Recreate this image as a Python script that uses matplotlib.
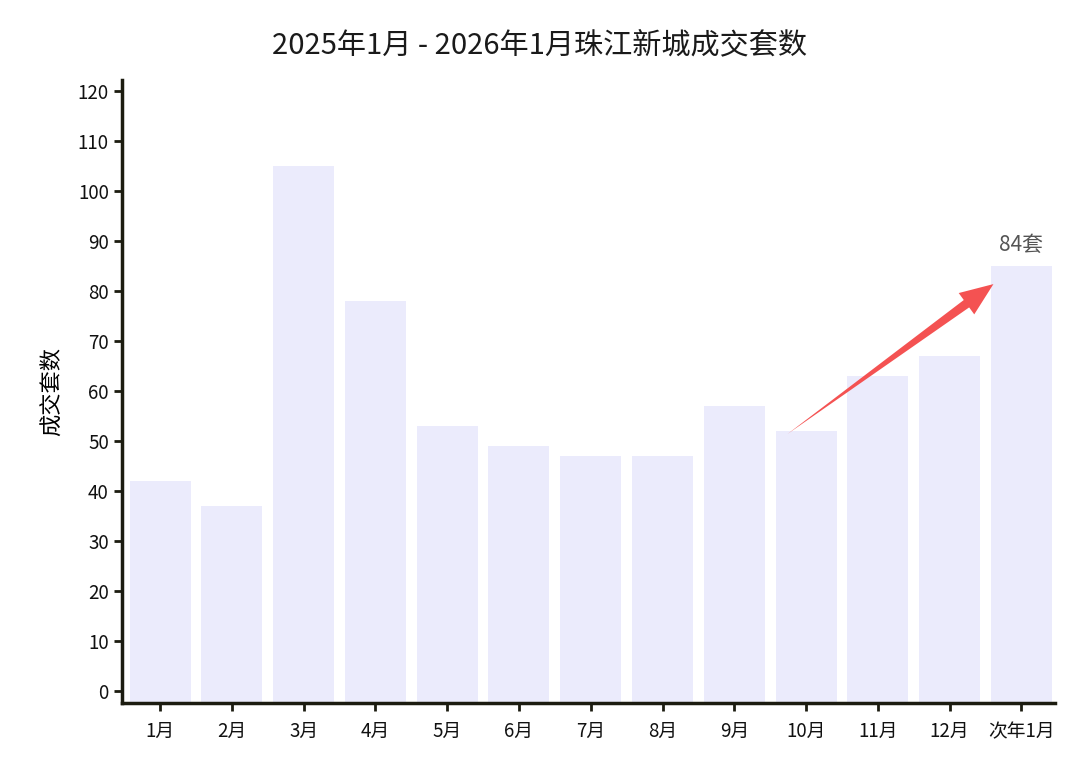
import matplotlib
matplotlib.use('Agg')
import matplotlib.pyplot as plt

plt.rcParams['font.family'] = ['Noto Sans CJK SC', 'DejaVu Sans']

months = ['1月', '2月', '3月', '4月', '5月', '6月', '7月', '8月', '9月', '10月', '11月', '12月', '次年1月']
deals = [42, 37, 105, 78, 53, 49, 47, 47, 57, 52, 63, 67, 85]
last_label = '84套'

y_min, y_max = -2.4, 122.2
axis_color = '#1c1c10'
arrow_color = '#f45252'

fig = plt.figure(figsize=(10.8, 7.78), dpi=100)
ax = fig.add_axes([0.113, 0.0964, 0.864, 0.8006])

x = list(range(len(months)))
ax.bar(x, [v - y_min for v in deals], bottom=y_min, width=0.85, color='#ebebfc', zorder=1)

ax.set_xlim(-0.53, 12.47)
ax.set_ylim(y_min, y_max)
ax.set_xticks(x)
ax.set_xticklabels(months)
ax.set_yticks(range(0, 121, 10))
ax.tick_params(axis='both', labelsize=13.5, length=6, width=2, color=axis_color, labelcolor='#111111')
ax.tick_params(axis='x', pad=7)

for side in ['top', 'right']:
    ax.spines[side].set_visible(False)
for side in ['left', 'bottom']:
    ax.spines[side].set_linewidth(2.5)
    ax.spines[side].set_color(axis_color)

ax.set_ylabel('成交套数', fontsize=16, labelpad=10)
fig.suptitle('2025年1月 - 2026年1月珠江新城成交套数', x=0.5, y=0.942, va='center',
             fontsize=21, fontweight='medium', color='#1a1a1a')

# growth arrow from Oct to next Jan: tapered shaft + head
p0 = (8.74, 51.4)
p1 = (11.61, 81.4)

def along(t):
    return (p0[0] + (p1[0] - p0[0]) * t, p0[1] + (p1[1] - p0[1]) * t)

ax.annotate('', xy=p0, xytext=along(0.9),
            arrowprops=dict(arrowstyle='wedge,tail_width=0.34,shrink_factor=0.5',
                            color=arrow_color, lw=0, shrinkA=0, shrinkB=0, mutation_scale=20),
            zorder=3)
ax.annotate('', xy=p1, xytext=along(0.75),
            arrowprops=dict(arrowstyle='simple,head_length=1.2,head_width=0.95,tail_width=0.05',
                            color=arrow_color, lw=0, shrinkA=0, shrinkB=0, mutation_scale=20),
            zorder=3)

ax.text(x[-1], deals[-1] + 4.2, last_label, ha='center', va='center', fontsize=15, color='#555555')

plt.savefig('out.png', dpi=100)
